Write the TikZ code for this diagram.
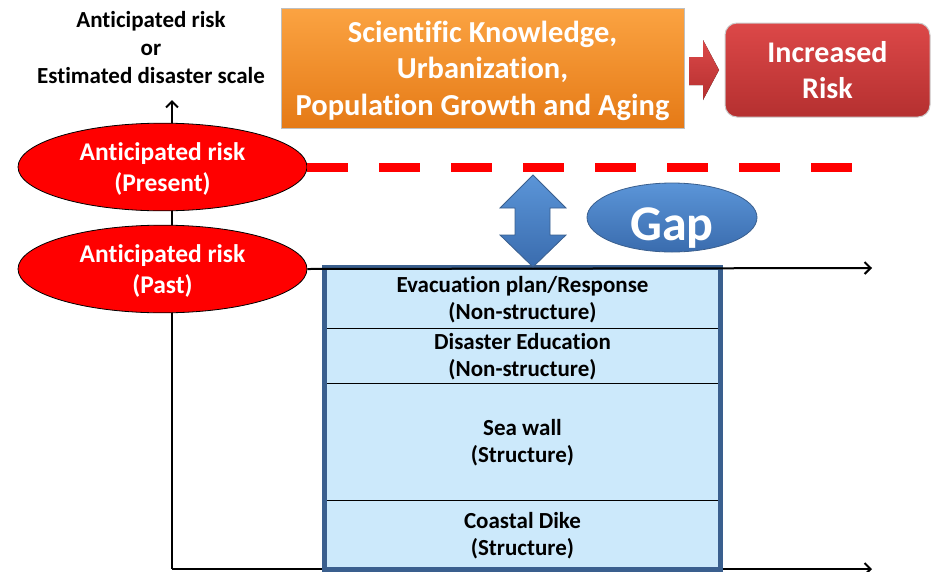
\documentclass[tikz,border=0pt]{standalone}
\usepackage{fontspec}
\setmainfont{Carlito}[Ligatures=NoCommon]
\usetikzlibrary{shapes.geometric}
\usetikzlibrary{calc}
\usetikzlibrary{arrows.meta}

\definecolor{layerblue}{HTML}{CCE9FB}
\definecolor{frameblue}{HTML}{3A5F8E}
\definecolor{gaptop}{HTML}{5B95D8}
\definecolor{gapbottom}{HTML}{3A6CAE}
\definecolor{riskred}{HTML}{FF0000}
\definecolor{orangetop}{HTML}{FBA342}
\definecolor{orangebottom}{HTML}{E57A16}
\definecolor{darkredtop}{HTML}{DC4848}
\definecolor{darkredbottom}{HTML}{B53030}

\newcommand{\fsz}[2]{\bfseries\fontsize{#1}{#2}\selectfont}
% lines of a node, lowered by #1 inside an unchanged box
\newcommand{\lowertext}[2]{\raisebox{-#1}[\height][\depth]{\begin{tabular}{@{}c@{}}#2\end{tabular}}}

\begin{document}
\begin{tikzpicture}[x=1pt,y=-1pt,
  >={Straight Barb[length=6pt,width=12pt]},
  axis/.style={line width=2pt},
  risk/.style={ellipse,draw=black,line width=0.8pt,fill=riskred,text=white,
    minimum width=289,minimum height=74,inner sep=0pt,font=\fsz{25.5}{31}},
  layer/.style={rectangle,draw=black,line width=1pt,fill=layerblue,inner sep=0pt,
    minimum width=395,font=\fsz{23}{27}}]
  \useasboundingbox (0,0) rectangle (935,571);

  % axes
  \coordinate (origin) at (172,569);
  \coordinate (ytop) at (172,100);
  \coordinate (xend) at (872,569);
  \coordinate (gapend) at (872,268);
  \coordinate (dashend) at (852,165);

  \draw [axis,->] (origin) -- (ytop);
  \draw [axis,->] (origin) -- (xend);

  \node [align=center,font=\fsz{23}{28}] (ylabel) at (151,48)
    {Anticipated risk\\or\\Estimated disaster scale};

  % countermeasures
  \node [layer,minimum height=60] (evac) at (522.5,298)
    {\lowertext{2.5pt}{Evacuation plan/Response\\(Non-structure)}};
  \node [layer,minimum height=55] (edu) at (522.5,355.5)
    {\lowertext{2.5pt}{Disaster Education\\(Non-structure)}};
  \node [layer,minimum height=117] (seawall) at (522.5,441.5)
    {\lowertext{2.5pt}{Sea wall\\(Structure)}};
  \node [layer,minimum height=69] (dike) at (522.5,534.5)
    {\lowertext{2.5pt}{Coastal Dike\\(Structure)}};
  \draw [frameblue,line width=4.5pt] (evac.north west) rectangle (dike.south east);

  % anticipated risk
  \node [risk] (present) at (162.5,167) {\lowertext{3pt}{Anticipated risk\\(Present)}};
  \node [risk] (past) at (162.5,269) {\lowertext{3pt}{Anticipated risk\\(Past)}};

  \draw [axis,->] (past.east) -- (gapend);
  \draw [riskred,line width=9pt,dash pattern=on 41pt off 31pt]
    (present.east) -- (present.east -| dashend);

  % gap
  \draw [draw=frameblue,line width=0.8pt,top color=gaptop,bottom color=gapbottom]
    (533,175) -- (566,208) -- (550,208) -- (550,235) -- (566,235) -- (533,267)
    -- (500,235) -- (515,235) -- (515,208) -- (500,208) -- cycle;
  \node [ellipse,draw=frameblue,line width=0.8pt,top color=gaptop,
    bottom color=gapbottom,text=white,minimum width=170,minimum height=69,
    inner sep=0pt,text height=45pt,text depth=0pt,font=\fsz{50}{50}]
    (gap) at (672,217.5) {Gap};

  % causes
  \node [rectangle,draw=black!25,line width=1pt,top color=orangetop,
    bottom color=orangebottom,text=white,minimum width=403,
    minimum height=120,inner sep=0pt,font=\fsz{30.5}{36.5}] (causes) at (482.5,68)
    {\lowertext{3.5pt}{Scientific Knowledge,\\Urbanization,\\Population Growth and Aging}};
  \node [rectangle,rounded corners=12pt,draw=black!20,line width=1pt,
    top color=darkredtop,bottom color=darkredbottom,text=white,
    align=center,minimum width=205,minimum height=94,inner sep=0pt,
    font=\fsz{30}{36}] (increased) at (827.5,70) {Increased\\Risk};
  \fill [top color=darkredtop,bottom color=darkredbottom]
    (689,57) -- (703,57) -- (703,40) -- (719,70) -- (703,100) -- (703,85)
    -- (689,85) -- cycle;
\end{tikzpicture}
\end{document}
